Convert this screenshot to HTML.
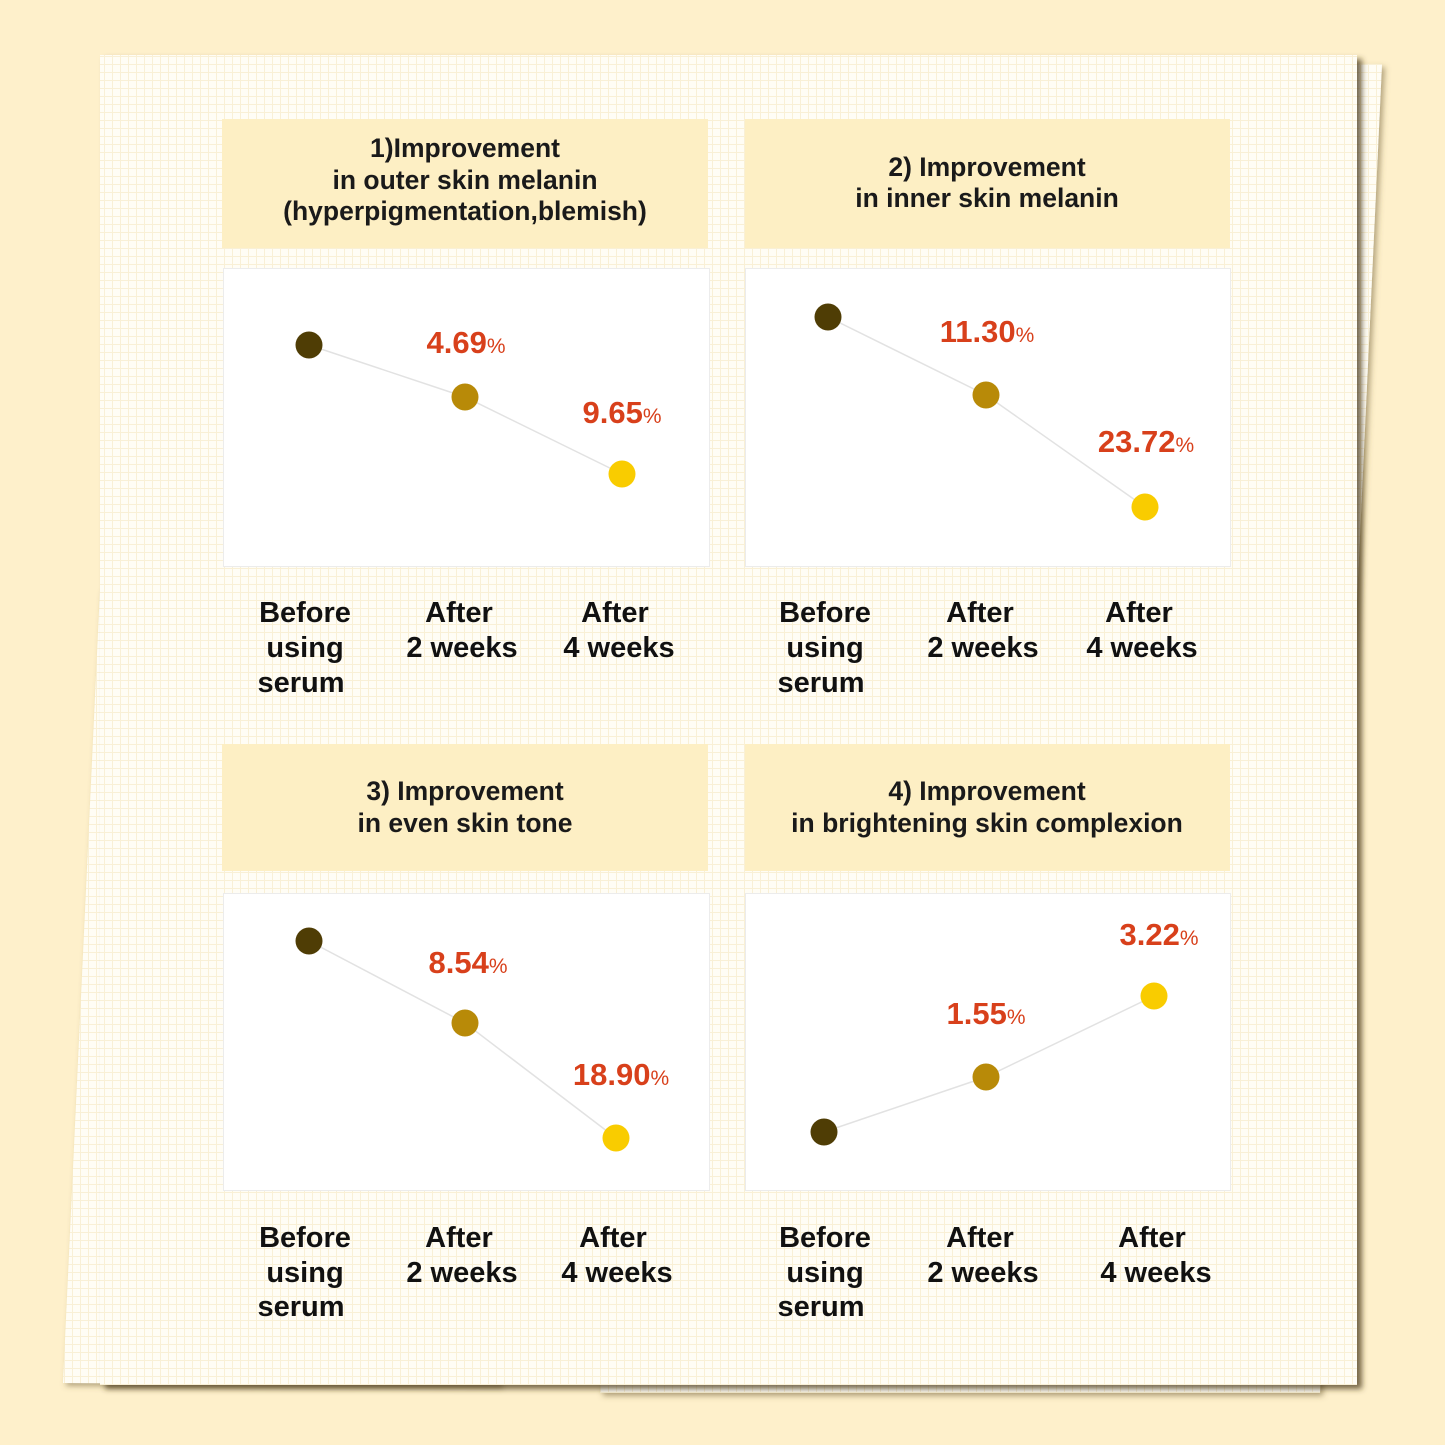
<!DOCTYPE html>
<html><head><meta charset="utf-8"><style>
html,body{margin:0;padding:0;background:#fef0cb;}
svg{display:block}
.t{font-family:"Liberation Sans",sans-serif;font-weight:bold;fill:#1a1a1a;font-size:26.5px;text-anchor:middle}
.x{font-family:"Liberation Sans",sans-serif;font-weight:bold;fill:#111;font-size:29px;text-anchor:middle}
.p{font-family:"Liberation Sans",sans-serif;font-weight:bold;fill:#d8401b;font-size:31px;text-anchor:middle;letter-spacing:0}
.p tspan{font-size:21px;font-weight:normal;letter-spacing:0}
</style></head><body>
<svg width="1445" height="1445" viewBox="0 0 1445 1445" xmlns="http://www.w3.org/2000/svg">
<defs>
<pattern id="g" width="8" height="8" patternUnits="userSpaceOnUse">
<rect width="8" height="8" fill="#fffdf5"/>
<path d="M0 0.5H8M0.5 0V8" stroke="#f9f0d6" stroke-width="1"/>
</pattern>
<filter id="sh" x="-5%" y="-5%" width="110%" height="110%">
<feDropShadow dx="5" dy="4" stdDeviation="3" flood-color="#4a3b1c" flood-opacity="0.75"/>
</filter>
<filter id="sh2" x="-5%" y="-5%" width="110%" height="110%">
<feDropShadow dx="3" dy="3" stdDeviation="3" flood-color="#6b5a30" flood-opacity="0.5"/>
</filter>
</defs>
<rect width="1445" height="1445" fill="#fef0cb"/>
<!-- back sheets -->
<polygon points="600,60 1382,64 1320,1393 600,1393" fill="url(#g)" filter="url(#sh2)"/>
<polygon points="100,590 63,1383 500,1385 500,590" fill="url(#g)" filter="url(#sh2)"/>
<!-- main paper -->
<rect x="100" y="55" width="1257" height="1330" fill="url(#g)" filter="url(#sh)"/>

<!-- title boxes -->
<rect x="222" y="119" width="486" height="129" fill="#fdefc4"/>
<rect x="745" y="119" width="485" height="129" fill="#fdefc4"/>
<rect x="222" y="744" width="486" height="127" fill="#fdefc4"/>
<rect x="745" y="744" width="485" height="127" fill="#fdefc4"/>

<text class="t" x="465" y="157">1)Improvement</text>
<text class="t" x="465" y="189">in outer skin melanin</text>
<text class="t" x="465" y="220">(hyperpigmentation,blemish)</text>
<text class="t" x="987" y="176">2) Improvement</text>
<text class="t" x="987" y="207">in inner skin melanin</text>
<text class="t" x="465" y="800">3) Improvement</text>
<text class="t" x="465" y="832">in even skin tone</text>
<text class="t" x="987" y="800">4) Improvement</text>
<text class="t" x="987" y="832">in brightening skin complexion</text>

<!-- chart boxes -->
<rect x="223.5" y="268.5" width="486" height="298" fill="#fff" stroke="#ececec" stroke-width="1"/>
<rect x="745.5" y="268.5" width="485" height="298" fill="#fff" stroke="#ececec" stroke-width="1"/>
<rect x="223.5" y="893.5" width="486" height="297" fill="#fff" stroke="#ececec" stroke-width="1"/>
<rect x="745.5" y="893.5" width="485" height="297" fill="#fff" stroke="#ececec" stroke-width="1"/>

<!-- chart 1 -->
<polyline points="309,345 465,397 622,474" fill="none" stroke="#e2e2e2" stroke-width="1.5"/>
<circle cx="309" cy="345" r="13.5" fill="#4f3d05"/>
<circle cx="465" cy="397" r="13.5" fill="#b88a08"/>
<circle cx="622" cy="474" r="13.5" fill="#f9cc00"/>
<text class="p" x="466" y="353">4.69<tspan>%</tspan></text>
<text class="p" x="622" y="423">9.65<tspan>%</tspan></text>

<!-- chart 2 -->
<polyline points="828,317 986,395 1145,507" fill="none" stroke="#e2e2e2" stroke-width="1.5"/>
<circle cx="828" cy="317" r="13.5" fill="#4f3d05"/>
<circle cx="986" cy="395" r="13.5" fill="#b88a08"/>
<circle cx="1145" cy="507" r="13.5" fill="#f9cc00"/>
<text class="p" x="987" y="342">11.30<tspan>%</tspan></text>
<text class="p" x="1146" y="452">23.72<tspan>%</tspan></text>

<!-- chart 3 -->
<polyline points="309,941 465,1023 616,1138" fill="none" stroke="#e2e2e2" stroke-width="1.5"/>
<circle cx="309" cy="941" r="13.5" fill="#4f3d05"/>
<circle cx="465" cy="1023" r="13.5" fill="#b88a08"/>
<circle cx="616" cy="1138" r="13.5" fill="#f9cc00"/>
<text class="p" x="468" y="973">8.54<tspan>%</tspan></text>
<text class="p" x="621" y="1085">18.90<tspan>%</tspan></text>

<!-- chart 4 -->
<polyline points="824,1132 986,1077 1154,996" fill="none" stroke="#e2e2e2" stroke-width="1.5"/>
<circle cx="824" cy="1132" r="13.5" fill="#4f3d05"/>
<circle cx="986" cy="1077" r="13.5" fill="#b88a08"/>
<circle cx="1154" cy="996" r="13.5" fill="#f9cc00"/>
<text class="p" x="986" y="1024">1.55<tspan>%</tspan></text>
<text class="p" x="1159" y="945">3.22<tspan>%</tspan></text>

<!-- x labels panel 1 -->
<text class="x" x="305" y="622">Before</text>
<text class="x" x="305" y="657">using</text>
<text class="x" x="301" y="692">serum</text>
<text class="x" x="459" y="622">After</text>
<text class="x" x="462" y="657">2 weeks</text>
<text class="x" x="615" y="622">After</text>
<text class="x" x="619" y="657">4 weeks</text>
<!-- panel 2 -->
<text class="x" x="825" y="622">Before</text>
<text class="x" x="825" y="657">using</text>
<text class="x" x="821" y="692">serum</text>
<text class="x" x="980" y="622">After</text>
<text class="x" x="983" y="657">2 weeks</text>
<text class="x" x="1139" y="622">After</text>
<text class="x" x="1142" y="657">4 weeks</text>
<!-- panel 3 -->
<text class="x" x="305" y="1247">Before</text>
<text class="x" x="305" y="1282">using</text>
<text class="x" x="301" y="1316">serum</text>
<text class="x" x="459" y="1247">After</text>
<text class="x" x="462" y="1282">2 weeks</text>
<text class="x" x="613" y="1247">After</text>
<text class="x" x="617" y="1282">4 weeks</text>
<!-- panel 4 -->
<text class="x" x="825" y="1247">Before</text>
<text class="x" x="825" y="1282">using</text>
<text class="x" x="821" y="1316">serum</text>
<text class="x" x="980" y="1247">After</text>
<text class="x" x="983" y="1282">2 weeks</text>
<text class="x" x="1152" y="1247">After</text>
<text class="x" x="1156" y="1282">4 weeks</text>
</svg>
</body></html>
